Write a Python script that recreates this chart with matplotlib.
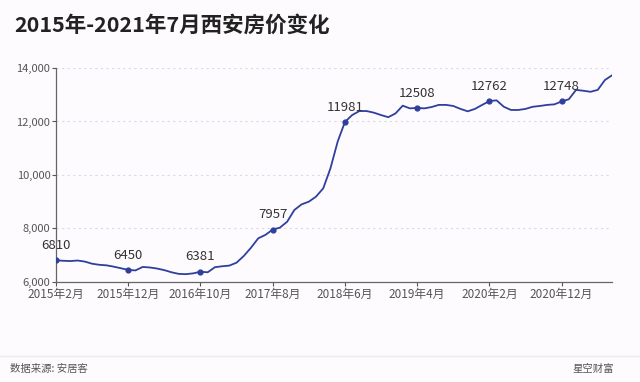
import matplotlib
matplotlib.use("Agg")
import matplotlib.pyplot as plt

plt.rcParams['font.family'] = ['Noto Sans CJK SC', 'DejaVu Sans']

# monthly average price, 2015-02 .. 2021-07
prices = [
    6810, 6790, 6780, 6800, 6760, 6680, 6640, 6620, 6570, 6510,
    6450, 6430, 6560, 6540, 6500, 6440, 6360, 6300, 6290, 6320,
    6381, 6360, 6550, 6585, 6610, 6720, 6970, 7280, 7630, 7760,
    7957, 8030, 8250, 8690, 8900, 9000, 9190, 9500, 10250, 11250,
    11981, 12240, 12390, 12390, 12330, 12240, 12160, 12300, 12590, 12490,
    12508, 12490, 12540, 12620, 12620, 12580, 12470, 12380, 12470, 12620,
    12762, 12790, 12550, 12430, 12430, 12470, 12550, 12580, 12620, 12640,
    12748, 12830, 13180, 13150, 13110, 13180, 13550, 13730,
]
tick_labels = ['2015年2月', '2015年12月', '2016年10月', '2017年8月',
               '2018年6月', '2019年4月', '2020年2月', '2020年12月']
tick_idx = [0, 10, 20, 30, 40, 50, 60, 70]

bg = '#fdfbfe'
line_c = '#2f3f9e'

fig = plt.figure(figsize=(6.4, 3.82), dpi=100, facecolor=bg)
ax = fig.add_axes([0.0875, 0.262, 0.869, 0.560], facecolor=bg)

x = list(range(len(prices)))
ax.plot(x, prices, color=line_c, lw=1.3, solid_capstyle='round', zorder=3)
ax.scatter(tick_idx, [prices[i] for i in tick_idx], s=12, color=line_c, zorder=4)
for i in tick_idx:
    ax.annotate(str(prices[i]), (i, prices[i]), xytext=(0, 6), textcoords='offset points',
                ha='center', va='bottom', fontsize=9.5, color='#333333')

ax.set_xlim(0, len(prices) - 1)
ax.set_ylim(6000, 14000)
ax.set_yticks([6000, 8000, 10000, 12000, 14000])
ax.set_yticklabels(['6,000', '8,000', '10,000', '12,000', '14,000'])
ax.set_xticks(tick_idx)
ax.set_xticklabels(tick_labels)
ax.tick_params(axis='both', colors='#555555', length=3, width=0.8, pad=1)
ax.tick_params(axis='x', labelsize=8.5)
ax.tick_params(axis='y', labelsize=8)
ax.grid(axis='y', color='#d9d9e6', linestyle=(0, (2, 3)), lw=0.8)
for s in ['top', 'right']:
    ax.spines[s].set_visible(False)
for s in ['left', 'bottom']:
    ax.spines[s].set_color('#666666')
    ax.spines[s].set_linewidth(0.9)

fig.text(0.023, 0.935, '2015年-2021年7月西安房价变化', fontsize=15.5, fontweight='bold',
         color='#222222', va='center', ha='left')

fig.add_artist(plt.Line2D([0.0, 1.0], [1 - 356 / 382] * 2, color='#eeeaf0', lw=1))
fig.text(0.016, 1 - 369 / 382, '数据来源: 安居客', fontsize=7.5, color='#555555', va='center')
fig.text(0.96, 1 - 369 / 382, '星空财富', fontsize=7.5, color='#555555', va='center', ha='right')

fig.savefig('out.png', dpi=100, facecolor=bg)
